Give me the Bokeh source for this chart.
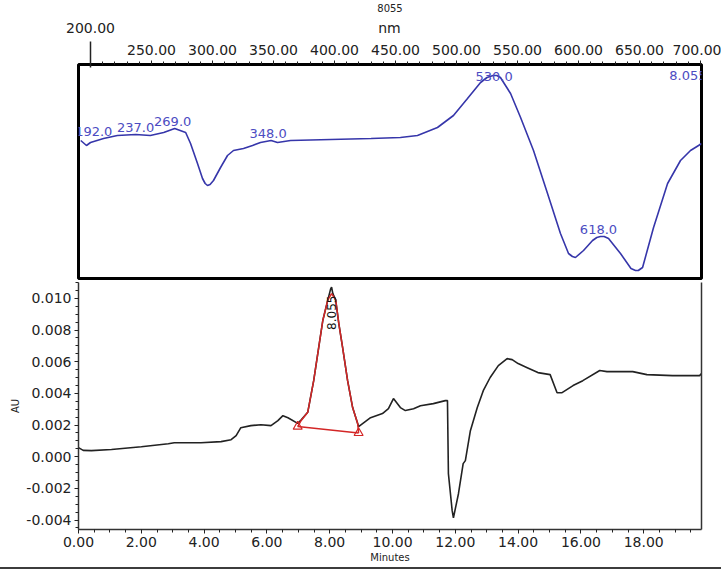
import numpy as np
from bokeh.plotting import figure
from bokeh.layouts import column
from bokeh.models import (ColumnDataSource, Range1d, LinearAxis, SingleIntervalTicker,
                          FixedTicker, NumeralTickFormatter, Div)
from bokeh.embed import file_html
from bokeh.resources import INLINE
from bokeh.core.properties import value

# ---------------- data: UV spectrum at 8.055 min ----------------
wavelength_nm = [192.0, 196.7, 200.0, 210.7, 222.0, 237.0, 249.0, 260.0, 269.0, 278.0,
                 282.0, 287.7, 291.8, 294.0, 295.9, 298.0, 300.8, 306.6, 312.3, 317.2,
                 325.4, 332.8, 339.3, 348.0, 353.3, 364.0, 430.0, 454.0, 468.0, 484.4,
                 497.5, 509.0, 519.7, 525.0, 530.0, 533.0, 536.0, 544.3, 552.5, 563.1,
                 574.6, 585.2, 591.8, 595.0, 597.5, 604.1, 611.5, 615.0, 618.0, 621.0,
                 624.6, 634.4, 643.0, 646.7, 649.0, 652.5, 661.5, 673.0, 683.6, 691.8,
                 698.4, 700.8]
spectrum_au = [0.0138, 0.0133, 0.0136, 0.0140, 0.0143, 0.0144, 0.0143, 0.0146, 0.0150, 0.0146,
               0.0135, 0.0115, 0.0100, 0.0095, 0.0093, 0.0094, 0.0098, 0.0111, 0.0123, 0.0128,
               0.0130, 0.0133, 0.0136, 0.0138, 0.0136, 0.0138, 0.0140, 0.0141, 0.0143, 0.0151,
               0.0163, 0.0180, 0.0196, 0.0201, 0.0203, 0.0203, 0.0201, 0.0185, 0.0161, 0.0128,
               0.0085, 0.0045, 0.0025, 0.0022, 0.0021, 0.0028, 0.0038, 0.0041, 0.0042, 0.0042,
               0.0040, 0.0025, 0.0010, 0.0008, 0.0008, 0.0011, 0.0051, 0.0095, 0.0118, 0.0128,
               0.0133, 0.0135]
spectrum_peak_nm = [192.0, 237.0, 269.0, 348.0, 530.0, 618.0]
spectrum_peak_labels = ["192.0", "237.0", "269.0", "348.0", "530.0", "618.0"]
spectrum_title = "8055"
retention_label = "8.055"
wl_axis_unit = "nm"
wl_unit_pos = 445

# ---------------- data: chromatogram ----------------
time_min = [0.00, 0.15, 0.41, 1.05, 2.00, 2.86, 3.05, 3.90, 4.54, 4.86,
            5.02, 5.17, 5.49, 5.81, 6.13, 6.35, 6.51, 6.67, 6.98, 7.08,
            7.30, 7.49, 7.65, 7.78, 7.94, 8.03, 8.06, 8.10, 8.19, 8.29,
            8.41, 8.57, 8.73, 8.89, 8.92, 9.30, 9.68, 9.87, 10.03, 10.25,
            10.41, 10.67, 10.89, 11.30, 11.68, 11.75, 11.78, 11.90, 11.94, 12.10,
            12.25, 12.32, 12.48, 12.70, 12.89, 13.11, 13.37, 13.65, 13.81, 14.00,
            14.29, 14.63, 15.02, 15.24, 15.40, 15.75, 16.06, 16.60, 16.83, 17.65,
            18.10, 18.92, 19.78, 19.84]
signal_au = [0.00057, 0.00040, 0.00038, 0.00045, 0.00063, 0.00082, 0.00088, 0.00088, 0.00095, 0.00107,
             0.00133, 0.00183, 0.00196, 0.00202, 0.00196, 0.00228, 0.00259, 0.00246, 0.00210, 0.00230,
             0.00280, 0.00480, 0.00690, 0.00860, 0.00990, 0.01060, 0.01070, 0.01030, 0.00990, 0.00840,
             0.00690, 0.00480, 0.00310, 0.00210, 0.00190, 0.00246, 0.00272, 0.00303, 0.00367, 0.00310,
             0.00291, 0.00303, 0.00322, 0.00335, 0.00354, 0.00354, -0.00107, -0.00341, -0.00386, -0.00234,
             -0.00044, -0.00025, 0.00164, 0.00310, 0.00417, 0.00500, 0.00575, 0.00619, 0.00613, 0.00588,
             0.00562, 0.00531, 0.00518, 0.00404, 0.00404, 0.00449, 0.00480, 0.00544, 0.00537, 0.00537,
             0.00518, 0.00512, 0.00512, 0.00525]
peak_time = [6.98, 7.08, 7.30, 7.49, 7.65, 7.78, 7.94, 8.06, 8.19, 8.29, 8.41, 8.57, 8.73, 8.89, 8.92]
peak_au = [0.00190, 0.00225, 0.00280, 0.00480, 0.00690, 0.00860, 0.00990, 0.01030, 0.00990, 0.00840,
           0.00690, 0.00480, 0.00310, 0.00210, 0.00150]
baseline_time = [6.98, 8.92]
baseline_au = [0.00190, 0.00150]

# ---------------- styling ----------------
FONT = "DejaVu Sans"
BLUE = "#3636aa"
BLUE_TXT = "#4c4cc2"
RED = "#d32626"
INK = "#222222"
TICK_FS = "14px"

# ---------------- top: spectrum ----------------
x1 = Range1d(190.16, 700.8)
p1 = figure(width=721, height=280, x_range=x1, y_range=Range1d(0, 0.0214),
            x_axis_location="above", y_axis_location=None,
            output_backend="svg", toolbar_location=None,
            min_border_left=78, min_border_right=20, min_border_top=64, min_border_bottom=2)
p1.grid.visible = False
p1.outline_line_color = "black"
p1.outline_line_width = 3

# inner axis: 250 ... 700 labels, minor ticks every 10 nm
ax = p1.xaxis[0]
ax.ticker = SingleIntervalTicker(interval=50, num_minor_ticks=5)
ax.formatter = NumeralTickFormatter(format="0.00")
ax.major_label_overrides = {200: ""}
ax.axis_line_color = None
ax.major_tick_out = 4
ax.major_tick_in = 0
ax.minor_tick_out = 3
ax.minor_tick_in = 0
ax.major_tick_line_color = INK
ax.minor_tick_line_color = INK
ax.major_label_standoff = 6
ax.major_label_text_font = FONT
ax.major_label_text_font_size = TICK_FS
ax.major_label_text_color = INK

# outer axis: elevated 200.00 label with its long tick, unit label and spectrum title
ax2 = LinearAxis(ticker=FixedTicker(ticks=[200, wl_unit_pos], minor_ticks=[200]),
                 formatter=NumeralTickFormatter(format="0.00"),
                 major_label_overrides={wl_unit_pos: wl_axis_unit},
                 axis_line_color=None, major_tick_line_color=None,
                 minor_tick_line_color=INK, minor_tick_line_width=1.5,
                 minor_tick_in=26, minor_tick_out=0,
                 major_label_standoff=0, major_label_text_font=FONT,
                 major_label_text_font_size=TICK_FS, major_label_text_color=INK,
                 axis_label=spectrum_title, axis_label_standoff=5,
                 axis_label_text_font=FONT, axis_label_text_font_size="10px",
                 axis_label_text_font_style="normal", axis_label_text_color=INK)
p1.add_layout(ax2, "above")

p1.line(wavelength_nm, spectrum_au, line_color=BLUE, line_width=1.6)

lab_y = list(np.interp(spectrum_peak_nm, wavelength_nm, spectrum_au))
lab_src = ColumnDataSource(dict(x=spectrum_peak_nm, y=lab_y, t=spectrum_peak_labels,
                                dx=[13, 0, -2, -3, 1, -2], dy=[-5, -3, -3, -3, 5, -3]))
p1.text(x="x", y="y", text="t", x_offset="dx", y_offset="dy", source=lab_src,
        text_align="center", text_baseline="bottom", text_color=BLUE_TXT,
        text_font=value(FONT), text_font_size="13px")
p1.text(x=[x1.end], y=[0.0214], text=[retention_label], x_offset=5, y_offset=6,
        text_align="right", text_baseline="top", text_color=BLUE_TXT,
        text_font=value(FONT), text_font_size="13px")

# ---------------- bottom: chromatogram ----------------
p2 = figure(width=721, height=287, x_range=Range1d(0, 19.84), y_range=Range1d(-0.0046, 0.0110),
            output_backend="svg", toolbar_location=None,
            min_border_left=77, min_border_right=19, min_border_top=2, min_border_bottom=38)
p2.grid.visible = False
p2.outline_line_color = None

bx = p2.xaxis[0]
bx.ticker = SingleIntervalTicker(interval=2, num_minor_ticks=4)
bx.formatter = NumeralTickFormatter(format="0.00")
bx.axis_label = "Minutes"
by = p2.yaxis[0]
by.ticker = SingleIntervalTicker(interval=0.002, num_minor_ticks=4)
by.formatter = NumeralTickFormatter(format="0.000")
by.axis_label = "AU"
for a in (bx, by):
    a.axis_line_color = "#333333"
    a.axis_line_width = 1.5
    a.major_tick_out = 4
    a.major_tick_in = 0
    a.minor_tick_out = 3
    a.minor_tick_in = 0
    a.major_tick_line_color = INK
    a.minor_tick_line_color = INK
    a.major_label_standoff = 3
    a.major_label_text_font = FONT
    a.major_label_text_font_size = TICK_FS
    a.major_label_text_color = INK
    a.axis_label_text_font = FONT
    a.axis_label_text_font_size = "10px"
    a.axis_label_text_font_style = "normal"
    a.axis_label_text_color = INK
    a.axis_label_standoff = 2

rx = LinearAxis(ticker=FixedTicker(ticks=[]), axis_line_color="#333333", axis_line_width=1.5,
                major_tick_line_color=None, minor_tick_line_color=None,
                major_label_text_font_size="0px")
p2.add_layout(rx, "right")

p2.line(time_min, signal_au, line_color=INK, line_width=1.6)
p2.line(peak_time, peak_au, line_color=RED, line_width=1.5)
p2.line(baseline_time, baseline_au, line_color=RED, line_width=1.5)
p2.scatter(baseline_time, baseline_au, marker="triangle", size=9, line_color=RED,
           line_width=1.2, fill_color=None)

ia = int(np.argmax(peak_au))
p2.text(x=[peak_time[ia]], y=[peak_au[ia]], text=[retention_label], angle=np.pi / 2,
        text_align="right", text_baseline="middle", y_offset=2, text_color="#111111",
        text_font=value(FONT), text_font_size="12px")

rule = Div(text="", width=721, height=2, margin=(0, 0, 0, 0),
           styles={"background-color": "#3c3c3c"})

layout = column(p1, p2, rule, spacing=0)

open("out.html", "w").write(file_html(layout, INLINE))
